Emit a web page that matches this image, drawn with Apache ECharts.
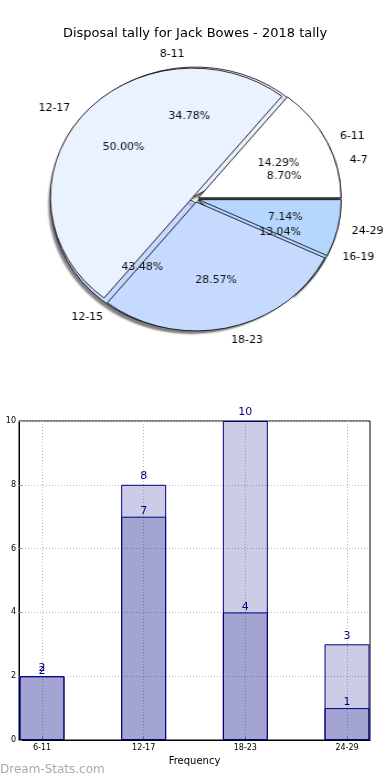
<!DOCTYPE html>
<html>
<head>
<meta charset="utf-8">
<script src="https://cdn.jsdelivr.net/npm/echarts@6/dist/echarts.min.js"></script>
<style>
html,body{margin:0;padding:0;width:390px;height:780px;overflow:hidden;background:#fff;}
#bar{position:absolute;left:0;top:0;width:390px;height:780px;z-index:1;}
#pie{position:absolute;left:0;top:0;width:390px;height:380px;z-index:2;transform:scaleX(1.105);transform-origin:195.5px 0;}
</style>
</head>
<body>
<div id="bar"></div>
<div id="pie"></div>
<script>
// ---- data ----
const titleText = 'Disposal tally for Jack Bowes - 2018 tally';
const pieALabels = ['6-11', '12-17', '18-23', '24-29'];
const pieAValues = [2, 7, 4, 1];
const pieBLabels = ['4-7', '8-11', '12-15', '16-19'];
const pieBValues = [2, 8, 10, 3];
const barCategories = ['6-11', '12-17', '18-23', '24-29'];
const barLight = [2, 8, 10, 3];
const barDark = [2, 7, 4, 1];
const yTicks = [0, 2, 4, 6, 8, 10];
const xAxisName = 'Frequency';
const yAxisName = 'Disposals';
const watermark = 'Dream-Stats.com';

// ---- styles ----
const pieColors = ['#ffffff', '#eaf1ff', '#c6d9ff', '#b5d6ff'];
const PF = "'DejaVu Sans Condensed', 'DejaVu Sans', sans-serif";
const F = "'DejaVu Sans', sans-serif";
const C = [195.5, 199];
const R = 129;

function pieData(labels, values, transparent) {
  return labels.map((n, i) => ({
    name: n, value: values[i], selected: true,
    itemStyle: transparent ? { color: 'rgba(0,0,0,0)', borderWidth: 0 } : { color: pieColors[i] }
  }));
}
function basePie(z) {
  return {
    type: 'pie', center: C, startAngle: 0, clockwise: false,
    avoidLabelOverlap: false, selectedMode: 'multiple', selectedOffset: 3,
    z: z, silent: true, animation: false, emphasis: { disabled: true }
  };
}
function namePie(labels, values, z, shadow) {
  return Object.assign(basePie(z), {
    radius: R,
    itemStyle: Object.assign({ borderColor: '#000', borderWidth: 0.8 },
      shadow ? { shadowColor: 'rgba(0,0,0,0.5)', shadowBlur: 2, shadowOffsetX: -2, shadowOffsetY: 3 } : {}),
    label: { show: true, position: 'outside', color: '#000', fontSize: 11, fontFamily: PF, distanceToLabelLine: 0 },
    labelLine: { show: false, length: 13, length2: 0 },
    data: pieData(labels, values, false)
  });
}
function pctPie(labels, values, z) {
  return Object.assign(basePie(z), {
    radius: [R * 0.2, R],
    label: { show: true, position: 'inside', color: '#111', fontSize: 11, fontFamily: PF,
      formatter: p => p.percent.toFixed(2) + '%' },
    labelLine: { show: false },
    data: pieData(labels, values, true)
  });
}

const pie = echarts.init(document.getElementById('pie'), null, { renderer: 'canvas' });
pie.setOption({
  animation: false,
  series: [
    namePie(pieBLabels, pieBValues, 1, true),
    namePie(pieALabels, pieAValues, 2, false),
    pctPie(pieBLabels, pieBValues, 3),
    pctPie(pieALabels, pieAValues, 4)
  ]
});

const bar = echarts.init(document.getElementById('bar'), null, { renderer: 'canvas' });
const xIdx = barCategories.map((c, i) => i);
const dotted = { show: true, lineStyle: { color: '#bbb', type: [1, 2], width: 1 } };
function barSeries(vals, dist, z) {
  return {
    type: 'bar', barWidth: 45, barGap: '-100%', z: z,
    data: vals.map((v, i) => [i, v]),
    itemStyle: { color: 'rgba(0,0,128,0.2)', borderColor: '#000080', borderWidth: 1 },
    label: { show: true, position: 'top', distance: dist, color: '#000080', fontSize: 11, fontFamily: F,
      formatter: p => String(p.value[1]) },
    emphasis: { disabled: true }, silent: true
  };
}
bar.setOption({
  animation: false,
  title: { text: titleText, left: 'center', top: 22,
    textStyle: { fontSize: 13, fontWeight: 'normal', color: '#000', fontFamily: F } },
  graphic: [{ type: 'text', left: 0, top: 764,
    style: { text: watermark, fontSize: 12, fill: '#aaa', fontFamily: F } }],
  grid: { left: 19, right: 20, top: 421, bottom: 40, show: true, borderColor: '#000', borderWidth: 1,
    outerBoundsMode: 'none', containLabel: false },
  xAxis: {
    type: 'value', min: -0.226, max: 3.226,
    name: xAxisName, nameLocation: 'middle', nameGap: 16,
    nameTextStyle: { fontSize: 10, color: '#000', fontFamily: F },
    axisLine: { show: true, onZero: false, lineStyle: { color: '#000', width: 1 } },
    axisTick: { show: true, inside: true, length: 3, customValues: xIdx, lineStyle: { color: '#999' } },
    axisLabel: { customValues: xIdx, formatter: v => barCategories[Math.round(v)], fontSize: 8, color: '#000',
      margin: 4, fontFamily: F },
    splitLine: dotted
  },
  yAxis: {
    type: 'value', min: yTicks[0], max: yTicks[yTicks.length - 1], interval: yTicks[1] - yTicks[0],
    name: yAxisName, nameLocation: 'middle', nameGap: 16, nameRotate: 90,
    nameTextStyle: { fontSize: 10, color: '#000', fontFamily: F },
    axisLine: { show: true, onZero: false, lineStyle: { color: '#000', width: 1 } },
    axisTick: { show: true, inside: true, length: 3, lineStyle: { color: '#999' } },
    axisLabel: { fontSize: 8, color: '#000', margin: 3, fontFamily: F },
    splitLine: dotted
  },
  series: [barSeries(barLight, 3, 2), barSeries(barDark, 0, 3)]
});
</script>
</body>
</html>
